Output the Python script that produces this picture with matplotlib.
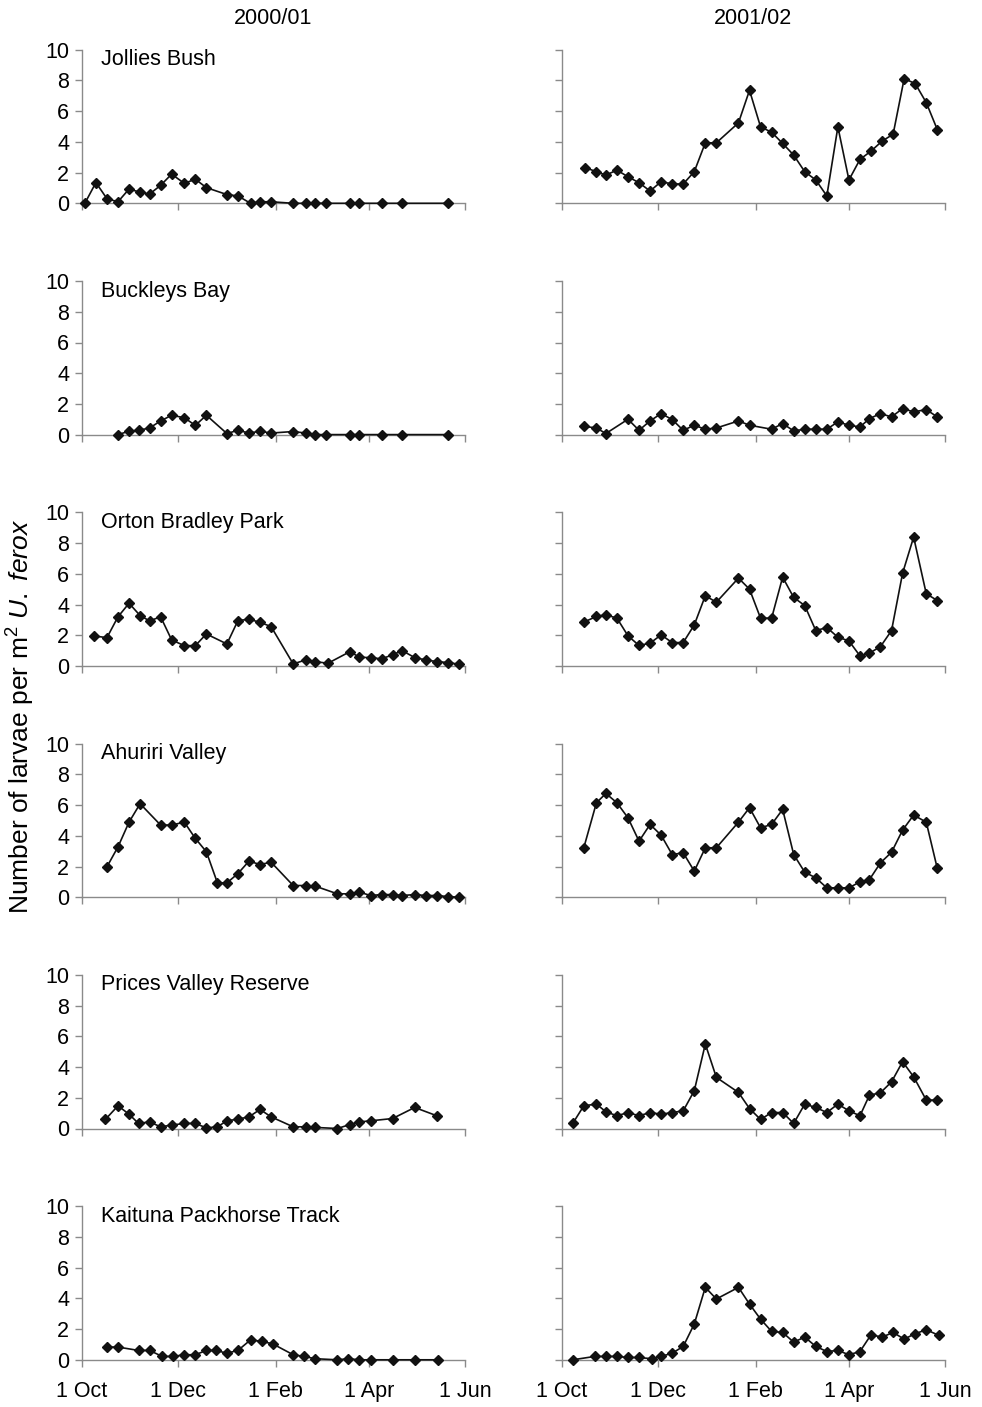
import matplotlib
import matplotlib.pyplot as plt

matplotlib.use("Agg")

plt.rcParams["font.family"] = ["Liberation Sans", "DejaVu Sans"]
plt.rcParams["mathtext.fontset"] = "custom"
plt.rcParams["mathtext.rm"] = "Liberation Sans"
plt.rcParams["mathtext.it"] = "Liberation Sans:italic"

# x values are days after 1 Oct
month_ticks = [0, 61, 123, 182, 243]
month_labels = ["1 Oct", "1 Dec", "1 Feb", "1 Apr", "1 Jun"]
seasons = ["2000/01", "2001/02"]
sites = [
    "Jollies Bush",
    "Buckleys Bay",
    "Orton Bradley Park",
    "Ahuriri Valley",
    "Prices Valley Reserve",
    "Kaituna Packhorse Track",
]

# Jollies Bush
jollies_0_days = [2, 9, 16, 23, 30, 37, 43, 50, 57, 65, 72, 79, 92, 99, 107, 113, 120,
                  134, 142, 148, 155, 170, 176, 190, 203, 232]
jollies_0_vals = [0.0, 1.35, 0.3, 0.1, 0.93, 0.72, 0.6, 1.17, 1.9, 1.3, 1.57, 1.02, 0.57,
                  0.48, 0.0, 0.1, 0.1, 0.0, 0.0, 0.0, 0.0, 0.0, 0.0, 0.0, 0.0, 0.0]
jollies_1_days = [15, 22, 28, 35, 42, 49, 56, 63, 70, 77, 84, 91, 98, 112, 119, 126, 133,
                  140, 147, 154, 161, 168, 175, 182, 189, 196, 203, 210, 217, 224, 231, 238]
jollies_1_vals = [2.32, 2.06, 1.84, 2.16, 1.73, 1.34, 0.8, 1.41, 1.26, 1.26, 2.06, 3.94,
                  3.94, 5.24, 7.36, 4.98, 4.63, 3.9, 3.14, 2.06, 1.52, 0.48, 4.98, 1.52,
                  2.86, 3.4, 4.05, 4.5, 8.12, 7.8, 6.56, 4.8]

# Buckleys Bay
buckleys_0_days = [23, 30, 36, 43, 50, 57, 65, 72, 79, 92, 99, 106, 113, 120, 134, 142,
                   148, 155, 170, 176, 190, 203, 232]
buckleys_0_vals = [0.0, 0.22, 0.28, 0.43, 0.89, 1.26, 1.1, 0.6, 1.26, 0.07, 0.28, 0.1,
                   0.22, 0.1, 0.2, 0.1, 0.0, 0.0, 0.0, 0.0, 0.0, 0.0, 0.0]
buckleys_1_days = [14, 22, 28, 42, 49, 56, 63, 70, 77, 84, 91, 98, 112, 119, 133, 140,
                   147, 154, 161, 168, 175, 182, 189, 195, 202, 209, 216, 223, 231, 238]
buckleys_1_vals = [0.54, 0.43, 0.07, 1.0, 0.28, 0.89, 1.37, 0.98, 0.28, 0.61, 0.35, 0.43,
                   0.89, 0.61, 0.35, 0.72, 0.24, 0.35, 0.35, 0.35, 0.83, 0.61, 0.5, 1.04,
                   1.37, 1.15, 1.7, 1.48, 1.63, 1.15]

# Orton Bradley Park
orton_0_days = [8, 16, 23, 30, 37, 43, 50, 57, 65, 72, 79, 92, 99, 106, 113, 120, 134,
                142, 148, 156, 170, 176, 183, 190, 197, 203, 211, 218, 225, 232, 239]
orton_0_vals = [1.95, 1.84, 3.2, 4.08, 3.28, 2.93, 3.2, 1.69, 1.32, 1.32, 2.08, 1.43, 2.95,
                3.04, 2.84, 2.56, 0.13, 0.39, 0.28, 0.17, 0.93, 0.56, 0.54, 0.46, 0.72,
                1.0, 0.54, 0.39, 0.28, 0.22, 0.11]
orton_1_days = [14, 22, 28, 35, 42, 49, 56, 63, 70, 77, 84, 91, 98, 112, 119, 126, 133,
                140, 147, 154, 161, 168, 175, 182, 189, 195, 202, 209, 216, 223, 231, 238]
orton_1_vals = [2.85, 3.22, 3.33, 3.11, 1.96, 1.33, 1.48, 2.02, 1.52, 1.52, 2.67, 4.57,
                4.15, 5.72, 5.0, 3.11, 3.11, 5.78, 4.46, 3.93, 2.3, 2.5, 1.87, 1.63, 0.65,
                0.83, 1.26, 2.3, 6.04, 8.39, 4.7, 4.26]

# Ahuriri Valley
ahuriri_0_days = [16, 23, 30, 37, 50, 57, 65, 72, 79, 86, 92, 99, 106, 113, 120, 134, 142,
                  148, 162, 170, 176, 183, 190, 197, 203, 211, 218, 225, 232, 239]
ahuriri_0_vals = [1.98, 3.28, 4.89, 6.09, 4.7, 4.7, 4.89, 3.83, 2.96, 0.93, 0.93, 1.54,
                  2.35, 2.13, 2.28, 0.76, 0.76, 0.72, 0.22, 0.22, 0.33, 0.11, 0.17, 0.17,
                  0.11, 0.17, 0.11, 0.11, 0.04, 0.0]
ahuriri_1_days = [14, 22, 28, 35, 42, 49, 56, 63, 70, 77, 84, 91, 98, 112, 119, 126, 133,
                  140, 147, 154, 161, 168, 175, 182, 189, 195, 202, 209, 216, 223, 231, 238]
ahuriri_1_vals = [3.22, 6.15, 6.76, 6.15, 5.17, 3.65, 4.74, 4.04, 2.78, 2.89, 1.7, 3.22,
                  3.22, 4.89, 5.83, 4.52, 4.74, 5.72, 2.78, 1.63, 1.26, 0.61, 0.61, 0.61,
                  1.0, 1.15, 2.24, 2.93, 4.37, 5.35, 4.89, 1.87]

# Prices Valley Reserve
prices_0_days = [15, 23, 30, 36, 43, 50, 57, 65, 72, 79, 86, 92, 99, 106, 113, 120, 134,
                 142, 148, 162, 170, 176, 183, 197, 211, 225]
prices_0_vals = [0.59, 1.48, 0.93, 0.33, 0.43, 0.11, 0.22, 0.33, 0.33, 0.04, 0.11, 0.5,
                 0.61, 0.76, 1.24, 0.76, 0.11, 0.11, 0.07, 0.0, 0.26, 0.43, 0.5, 0.65,
                 1.37, 0.83]
prices_1_days = [7, 14, 22, 28, 35, 42, 49, 56, 63, 70, 77, 84, 91, 98, 112, 119, 126,
                 133, 140, 147, 154, 161, 168, 175, 182, 189, 195, 202, 209, 216, 223, 231,
                 238]
prices_1_vals = [0.33, 1.48, 1.59, 1.09, 0.83, 1.04, 0.83, 1.04, 0.93, 1.04, 1.15, 2.46,
                 5.5, 3.33, 2.35, 1.3, 0.59, 1.04, 1.04, 0.33, 1.59, 1.37, 1.04, 1.59, 1.15,
                 0.83, 2.17, 2.33, 3.04, 4.35, 3.37, 1.85, 1.85]

# Kaituna Packhorse Track
kaituna_0_days = [16, 23, 36, 43, 51, 58, 65, 72, 79, 85, 92, 99, 107, 114, 121, 134, 141,
                  148, 162, 169, 176, 183, 197, 211, 226]
kaituna_0_vals = [0.83, 0.83, 0.61, 0.61, 0.22, 0.22, 0.33, 0.33, 0.61, 0.61, 0.43, 0.61,
                  1.3, 1.2, 1.04, 0.33, 0.22, 0.07, 0.0, 0.07, 0.0, 0.0, 0.0, 0.0, 0.0]
kaituna_1_days = [7, 21, 28, 35, 42, 49, 57, 63, 70, 77, 84, 91, 98, 112, 119, 126, 133,
                  140, 147, 154, 161, 168, 175, 182, 189, 196, 203, 210, 217, 224, 231, 239]
kaituna_1_vals = [0.0, 0.22, 0.22, 0.22, 0.15, 0.15, 0.07, 0.22, 0.43, 0.87, 2.33, 4.72,
                  3.96, 4.72, 3.63, 2.65, 1.85, 1.78, 1.15, 1.48, 0.87, 0.54, 0.61, 0.33,
                  0.54, 1.63, 1.48, 1.78, 1.35, 1.7, 1.96, 1.59]

series = [
    [(jollies_0_days, jollies_0_vals), (jollies_1_days, jollies_1_vals)],
    [(buckleys_0_days, buckleys_0_vals), (buckleys_1_days, buckleys_1_vals)],
    [(orton_0_days, orton_0_vals), (orton_1_days, orton_1_vals)],
    [(ahuriri_0_days, ahuriri_0_vals), (ahuriri_1_days, ahuriri_1_vals)],
    [(prices_0_days, prices_0_vals), (prices_1_days, prices_1_vals)],
    [(kaituna_0_days, kaituna_0_vals), (kaituna_1_days, kaituna_1_vals)],
]

W, H = 982, 1407
fig = plt.figure(figsize=(W / 100, H / 100), dpi=100)

col_left = [81.7, 561.7]
ax_w = 383.5
ax_h = 153.5
spine_col = "#8a8a8a"
fs = 15.5

for r in range(6):
    y0 = 203.3 + r * 231.3
    for c in range(2):
        ax = fig.add_axes([col_left[c] / W, 1 - y0 / H, ax_w / W, ax_h / H])
        days, vals = series[r][c]
        ax.plot(days, vals, color="#111111", lw=1.2, marker="D", ms=5.6,
                clip_on=False, zorder=3)
        ax.set_xlim(0, 243)
        ax.set_ylim(0, 10)
        ax.set_xticks(month_ticks)
        ax.set_yticks(range(0, 11, 2))
        for s in ["top", "right"]:
            ax.spines[s].set_visible(False)
        for s in ["left", "bottom"]:
            ax.spines[s].set_color(spine_col)
            ax.spines[s].set_linewidth(1.0)
        ax.tick_params(direction="out", length=5, width=1.0, color=spine_col,
                       labelsize=fs, pad=4)
        ax.tick_params(axis="x", pad=10)
        if c == 0:
            ax.set_yticklabels([str(v) for v in range(0, 11, 2)])
            ax.text(0.05, 0.935, sites[r], transform=ax.transAxes, fontsize=fs,
                    va="center", ha="left")
        else:
            ax.set_yticklabels([])
        if r == 5:
            ax.set_xticklabels(month_labels)
        else:
            ax.set_xticklabels([])
        if r == 0:
            ax.text(0.5, 1.0 + 31 / ax_h, seasons[c], transform=ax.transAxes,
                    fontsize=fs, ha="center", va="center")

fig.text(21 / W, 1 - 716 / H, r"Number of larvae per m$^2$ $\it{U.\ ferox}$",
         rotation=90, fontsize=19, ha="center", va="center")

fig.savefig("out.png", dpi=100)
